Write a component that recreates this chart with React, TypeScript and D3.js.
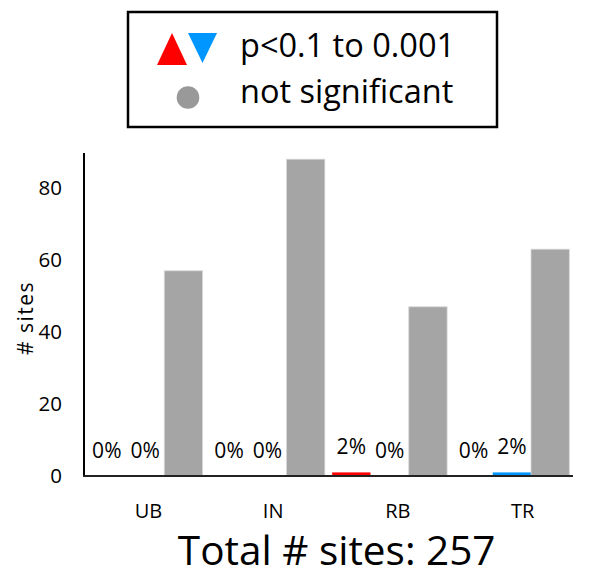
import React from "react";
import * as d3 from "d3";

const categories = ["UB", "IN", "RB", "TR"];
const seriesNames = ["increase", "decrease", "notSignificant"];
const increaseValues = [0, 0, 1, 0];
const decreaseValues = [0, 0, 0, 1];
const notSignificantValues = [57, 88, 47, 63];
const yTicks = [0, 20, 40, 60, 80];
const totalSites = 257;

const colors: Record<string, string> = {
  increase: "#FF0000",
  decrease: "#0096FF",
  notSignificant: "#A5A5A5",
};

const W = 590;
const H = 577;
const FONT = "'Open Sans', 'Noto Sans', sans-serif";

export default function App() {
  const values: Record<string, number[]> = {
    increase: increaseValues,
    decrease: decreaseValues,
    notSignificant: notSignificantValues,
  };
  const totals = categories.map((_, i) =>
    seriesNames.reduce((s, k) => s + values[k][i], 0)
  );

  const x = d3
    .scaleBand<string>()
    .domain(categories)
    .range([84, 573])
    .paddingInner(0.06)
    .paddingOuter(0.03);
  const xInner = d3
    .scaleBand<string>()
    .domain(seriesNames)
    .range([0, x.bandwidth()])
    .padding(0);
  const xLabel = d3.scaleBand<string>().domain(categories).range([86, 585]);
  const y = d3.scaleLinear().domain([0, 90]).range([476, 152]);

  return (
    <svg
      width={W}
      height={H}
      style={{ position: "absolute", left: 0, top: 0, background: "#fff" }}
      fontFamily={FONT}
    >
      <rect x={0} y={0} width={W} height={H} fill="#fff" />
      {/* Legend */}
      <rect x={128} y={12} width={369} height={115} fill="#fff" stroke="#000" strokeWidth={2.5} />
      <path d={d3.line()([[157, 65], [187, 65], [172, 33]]) + "Z"} fill={colors.increase} />
      <path d={d3.line()([[188, 33], [217, 33], [202.5, 63]]) + "Z"} fill={colors.decrease} />
      <circle cx={188} cy={97.5} r={11.3} fill="#999999" />
      <text x={240} y={57} fontSize={32.5} fill="#000">p&lt;0.1 to 0.001</text>
      <text x={240} y={103} fontSize={32.5} fill="#000">not significant</text>

      {/* Bars */}
      {categories.map((c, i) => (
        <g key={c} transform={`translate(${x(c)},0)`}>
          {seriesNames.map((s) => {
            const v = values[s][i];
            return (
              <rect
                key={s}
                x={xInner(s)}
                y={y(v)}
                width={xInner.bandwidth()}
                height={y(0) - y(v)}
                fill={colors[s]}
                stroke={s === "notSignificant" ? "#D6D6D6" : "none"}
                strokeWidth={0.8}
              />
            );
          })}
          {seriesNames
            .filter((s) => s !== "notSignificant")
            .map((s) => {
              const v = values[s][i];
              const pct = Math.round((v / totals[i]) * 100);
              return (
                <text
                  key={s + "l"}
                  x={(xInner(s) as number) + xInner.bandwidth() / 2}
                  y={y(v) - 18}
                  textAnchor="middle"
                  fontSize={21}
                  fill="#000"
                >
                  {pct}%
                </text>
              );
            })}
        </g>
      ))}

      {/* Axes */}
      <line x1={84} x2={84} y1={153} y2={y(0)} stroke="#000" strokeWidth={2} />
      <line x1={83} x2={573} y1={y(0)} y2={y(0)} stroke="#222" strokeWidth={2} />
      {yTicks.map((t) => (
        <text key={t} x={62} y={y(t)} dy="0.36em" textAnchor="end" fontSize={20.5} fill="#000">
          {t}
        </text>
      ))}
      {categories.map((c) => (
        <text
          key={c}
          x={(xLabel(c) as number) + xLabel.bandwidth() / 2}
          y={518}
          textAnchor="middle"
          fontSize={20}
          fill="#000"
        >
          {c}
        </text>
      ))}
      <text
        transform="translate(33,318) rotate(-90)"
        textAnchor="middle"
        fontSize={21}
        letterSpacing={1.5}
        fill="#000"
      >
        # sites
      </text>
      <text x={336.7} y={565} textAnchor="middle" fontSize={40.5} fill="#000">
        Total # sites: {totalSites}
      </text>
    </svg>
  );
}
